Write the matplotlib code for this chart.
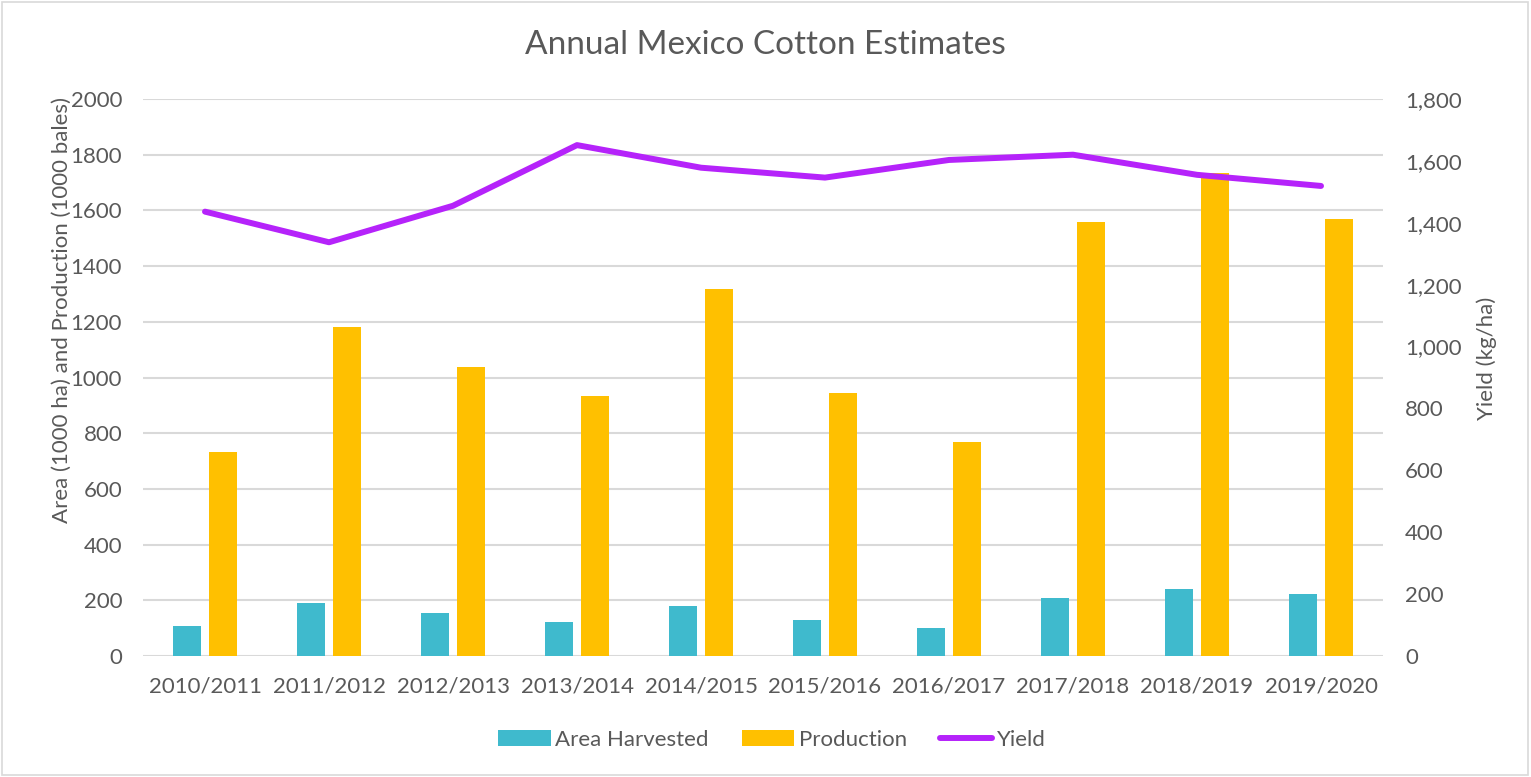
"""Annual Mexico Cotton Estimates - area, production and yield"""
import numpy as np
import matplotlib
matplotlib.use("Agg")
import matplotlib.pyplot as plt
from matplotlib.patches import Rectangle

seasons = ['2010/2011', '2011/2012', '2012/2013', '2013/2014', '2014/2015',
           '2015/2016', '2016/2017', '2017/2018', '2018/2019', '2019/2020']
area_harvested = [108, 190, 154, 122, 180, 130, 102, 207, 241, 223]
production = [733, 1180, 1038, 934, 1318, 944, 768, 1560, 1733, 1569]
yield_kg = [1436, 1337, 1455, 1651, 1578, 1546, 1603, 1620, 1555, 1519]

plt.rcParams['font.family'] = ['Lato', 'DejaVu Sans']
text_color = '#595959'
grid_color = '#D9D9D9'

fig = plt.figure(figsize=(15.31, 7.77), dpi=100)
ax = fig.add_axes([143 / 1531, 1 - 656 / 777, 1240 / 1531, 557 / 777])
ax2 = ax.twinx()

x = np.arange(len(seasons))
w = 0.226
b1 = ax.bar(x - 0.143, area_harvested, w, color='#3FBACD', label='Area Harvested', zorder=2)
b2 = ax.bar(x + 0.143, production, w, color='#FFC000', label='Production', zorder=2)
ln, = ax2.plot(x, yield_kg, color='#B523FA', lw=4.3, solid_capstyle='round',
               solid_joinstyle='round', label='Yield')

ax.set_xlim(-0.5, len(seasons) - 0.5)
ax.set_ylim(0, 2000)
ax.set_yticks(range(0, 2001, 200))
ax2.set_ylim(0, 1800)
ax2.set_yticks(range(0, 1801, 200))
ax2.set_yticklabels([f'{v:,}' for v in range(0, 1801, 200)])

ax.set_xticks(x)
ax.set_xticklabels(seasons)
ax.grid(axis='y', color=grid_color, lw=1.5, zorder=0)
ax.set_axisbelow(True)

for a in (ax, ax2):
    for s in a.spines.values():
        s.set_visible(False)
    a.tick_params(length=0, labelsize=16, labelcolor=text_color)
ax.tick_params(axis='y', pad=15)
ax.tick_params(axis='x', pad=15)
ax2.tick_params(axis='y', pad=16)

fig.text(0.5, 1 - 45 / 777, 'Annual Mexico Cotton Estimates', ha='center', va='center',
         fontsize=24, color=text_color)
fig.text(62 / 1531, 1 - 310 / 777, 'Area (1000 ha) and Production (1000 bales)',
         rotation=90, ha='center', va='center', fontsize=16, color=text_color)
fig.text(1487 / 1531, 1 - 358 / 777, 'Yield (kg/ha)', rotation=90, ha='center',
         va='center', fontsize=16, color=text_color)

fig.legend([b1, b2, ln], ['Area Harvested', 'Production', 'Yield'], loc='center',
           bbox_to_anchor=(772 / 1531, 1 - 740 / 777), ncol=3, frameon=False,
           fontsize=16, labelcolor=text_color, handlelength=2.35, handletextpad=0.2,
           columnspacing=1.5)

fig.patches.append(Rectangle((0.001, 0.002), 0.997, 0.996, transform=fig.transFigure,
                             fill=False, edgecolor=grid_color, lw=1.2))

fig.savefig('out.png', dpi=100)
